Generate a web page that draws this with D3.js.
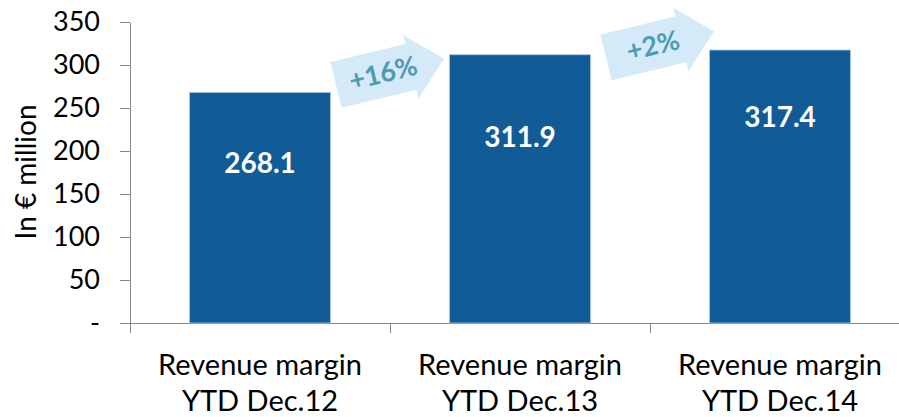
<!DOCTYPE html>
<html lang="en">
<head>
<meta charset="UTF-8">
<title>Revenue margin</title>
<script src="https://cdn.jsdelivr.net/npm/d3@7"></script>
<style>
  body { margin: 0; background: #fff; }
  svg { display: block; font-family: Lato, "Open Sans", sans-serif; }
  .axis path, .axis line { stroke: #868686; stroke-width: 1.3px; shape-rendering: crispEdges; }
  .axis text { font-size: 27px; fill: #000; font-family: Lato, sans-serif; }
</style>
</head>
<body>
<div id="chart"></div>
<script>
// data
var categories = ["Revenue margin|YTD Dec.12", "Revenue margin|YTD Dec.13", "Revenue margin|YTD Dec.14"];
var values = [268.1, 311.9, 317.4];
var yTicks = [0, 50, 100, 150, 200, 250, 300, 350];
var growthLabels = ["+16%", "+2%"];
var growthLevels = [292, 324];   // arrow centre, in € million

var width = 899, height = 417;
var plotLeft = 130, plotRight = 910, plotTop = 22, plotBottom = 323;

var svg = d3.select("#chart").append("svg")
    .attr("width", width)
    .attr("height", height);

var x = d3.scaleBand()
    .domain(categories)
    .range([plotLeft, plotRight])
    .paddingInner(0.458)
    .paddingOuter(0.229);

var y = d3.scaleLinear()
    .domain([0, 350])
    .range([plotBottom, plotTop]);

// x axis: ticks between categories
var xEdge = d3.scaleLinear().domain([0, categories.length]).range([plotLeft, plotRight]);
svg.append("g")
    .attr("class", "axis")
    .attr("transform", "translate(0," + plotBottom + ")")
    .call(d3.axisBottom(xEdge).tickValues([0, 1, 2, 3]).tickSize(10).tickSizeOuter(0).tickFormat(""));

// y axis
svg.append("g")
    .attr("class", "axis")
    .attr("transform", "translate(" + plotLeft + ",0)")
    .call(d3.axisLeft(y).tickValues(yTicks).tickSize(10).tickSizeOuter(0).tickPadding(20)
        .tickFormat(function(d){ return d === 0 ? "-" : d; }));

// y title
svg.append("text")
    .attr("transform", "translate(36," + 172 + ") rotate(-90)")
    .attr("text-anchor", "middle")
    .style("font-size", "28px")
    .text("In € million");

// bars
svg.selectAll("rect.bar")
    .data(values)
    .enter()
    .append("rect")
    .attr("class", "bar")
    .attr("x", function(d, i){ return x(categories[i]); })
    .attr("y", function(d){ return y(d); })
    .attr("width", x.bandwidth())
    .attr("height", function(d){ return plotBottom - y(d); })
    .attr("fill", "#115b96")
    .attr("stroke", "#a8c4df")
    .attr("stroke-width", 0.8);

// value labels
var labelOffsets = [71, 82, 67];
svg.selectAll("text.val")
    .data(values)
    .enter()
    .append("text")
    .attr("class", "val")
    .attr("x", function(d, i){ return x(categories[i]) + x.bandwidth() / 2; })
    .attr("y", function(d, i){ return y(d) + labelOffsets[i] + 10; })
    .attr("text-anchor", "middle")
    .style("font-size", "28px")
    .style("font-weight", "bold")
    .attr("fill", "#fff")
    .text(function(d){ return d.toFixed(1); });

// category labels
var catLabels = svg.selectAll("text.cat")
    .data(categories)
    .enter()
    .append("text")
    .attr("class", "cat")
    .attr("text-anchor", "middle")
    .style("font-size", "29px");
catLabels.each(function(d){
    var parts = d.split("|");
    var cx = x(d) + x.bandwidth() / 2;
    var t = d3.select(this);
    t.append("tspan").attr("x", cx).attr("y", 375).text(parts[0]);
    t.append("tspan").attr("x", cx).attr("y", 411).text(parts[1]);
});

// growth arrows
var arrowShape = [[-55.5, -23.5], [21.5, -23.5], [21.5, -32.5], [55.5, 0], [21.5, 32.5], [21.5, 23.5], [-55.5, 23.5]];
var arrowShift = [0, 10];
var arrows = svg.selectAll("g.arrow")
    .data(growthLabels)
    .enter()
    .append("g")
    .attr("class", "arrow")
    .attr("transform", function(d, i){
        var x0 = x(categories[i]) + x.bandwidth();
        var x1 = x(categories[i + 1]);
        return "translate(" + ((x0 + x1) / 2 + arrowShift[i]) + "," + y(growthLevels[i]) + ") rotate(-13.6)";
    });
arrows.append("path")
    .attr("d", d3.line()(arrowShape) + "Z")
    .attr("fill", "#d5eaf8");
arrows.append("text")
    .attr("x", -7)
    .attr("y", 9)
    .attr("text-anchor", "middle")
    .style("font-size", "27px")
    .style("font-weight", "bold")
    .attr("fill", "#4e9bb4")
    .text(function(d){ return d; });
</script>
</body>
</html>
